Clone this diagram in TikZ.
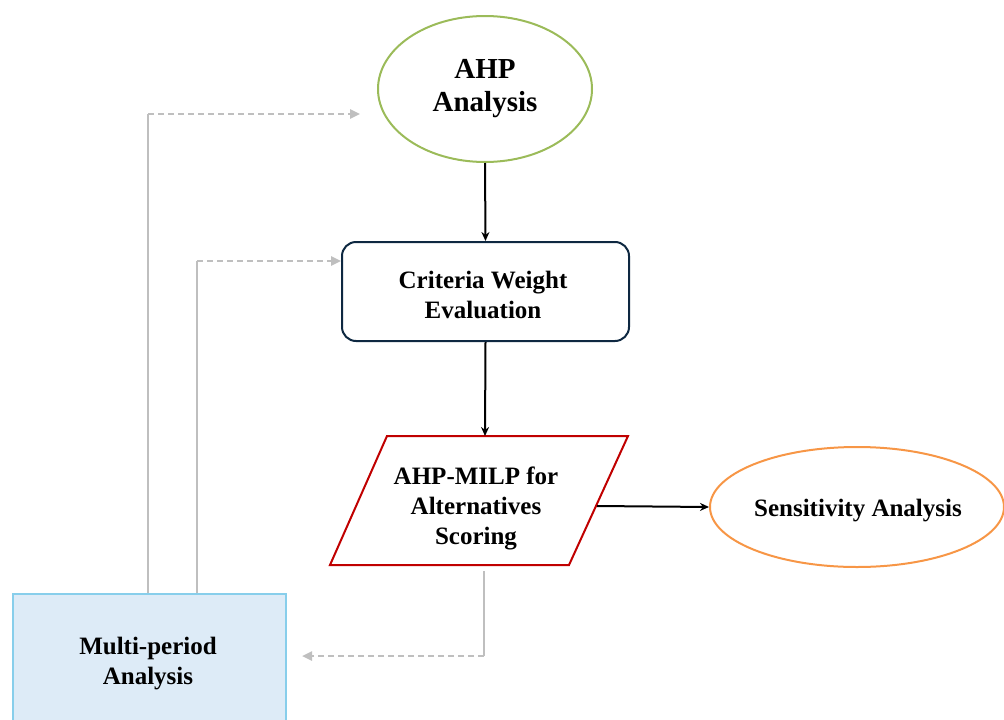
\documentclass[tikz,border=0pt]{standalone}
\usepackage{fontspec}
\setmainfont{Liberation Serif}
\usetikzlibrary{shapes.geometric,arrows.meta}
\definecolor{ahpgreen}{RGB}{155,187,89}
\definecolor{navy}{RGB}{14,40,65}
\definecolor{milpred}{RGB}{192,0,0}
\definecolor{sensorange}{RGB}{247,150,70}
\definecolor{mpfill}{RGB}{221,235,247}
\definecolor{mpdraw}{RGB}{135,206,235}
\definecolor{flowgray}{RGB}{191,191,191}
\tikzset{
  lbl/.style={align=center,font=\bfseries\fontsize{25}{30}\selectfont,inner sep=0pt},
  blackarrow/.style={draw=black,line width=2pt,-{Stealth[length=9pt,width=8pt]}},
  grayline/.style={draw=flowgray,line width=2.4pt},
  grayarrow/.style={draw=flowgray,line width=2.4pt,dash pattern=on 6pt off 4pt,-{Triangle[length=10pt,width=9pt]}}
}
\begin{document}
\begin{tikzpicture}[x=1pt,y=-1pt]
\useasboundingbox (0,0) rectangle (1004,720);
\clip (0,0) rectangle (1004,720);
% AHP ellipse
\node[ellipse,draw=ahpgreen,line width=2pt,minimum width=214pt,minimum height=146pt,
  align=center,font=\bfseries\fontsize{29}{33}\selectfont] (ahp) at (485,89) {AHP\\Analysis};
% Criteria box
\node[draw=navy,line width=2pt,rounded corners=14pt,minimum width=287pt,minimum height=99pt] (crit) at (485.5,291.5) {};
\node[lbl] (critt) at (483,295) {Criteria Weight\\Evaluation};
% MILP parallelogram
\draw[milpred,line width=2pt] (387,436) -- (628,436) -- (569,565) -- (330,565) -- cycle;
\node[lbl] (milp) at (476,508) {AHP-MILP for\\Alternatives\\Scoring};
\coordinate (milptop) at (485,436);
\coordinate (milpright) at (597,506);
\coordinate (milpbot) at (484,571);
% Sensitivity ellipse
\node[ellipse,draw=sensorange,line width=2pt,minimum width=294pt,minimum height=120pt] (sens) at (857,507) {};
\node[lbl] (senst) at (858,511) {Sensitivity Analysis};
% Multi-period box
\node[draw=mpdraw,fill=mpfill,line width=2pt,minimum width=273pt,minimum height=140pt,anchor=north west] (mp) at (12,593) {};
\node[lbl] (mpt) at (148,664) {Multi-period\\Analysis};
% black arrows
\draw[blackarrow] (ahp.south) -- (crit.north);
\draw[blackarrow] (crit.south) -- (milptop);
\draw[blackarrow] (milpright) -- (sens.west);
% gray feedback
\coordinate (g1s) at (148,593);
\coordinate (g1c) at (148,114);
\coordinate (g1e) at (360,114);
\draw[grayline] (g1s) -- (g1c);
\draw[grayarrow] (g1c) -- (g1e);
\coordinate (g2s) at (197,593);
\coordinate (g2c) at (197,261);
\draw[grayline] (g2s) -- (g2c);
\draw[grayarrow] (g2c) -- (crit.west |- g2c);
\coordinate (g3c) at (484,656);
\coordinate (g3e) at (302,656);
\draw[grayline] (milpbot) -- (g3c);
\draw[grayarrow] (g3c) -- (g3e);
\end{tikzpicture}
\end{document}
